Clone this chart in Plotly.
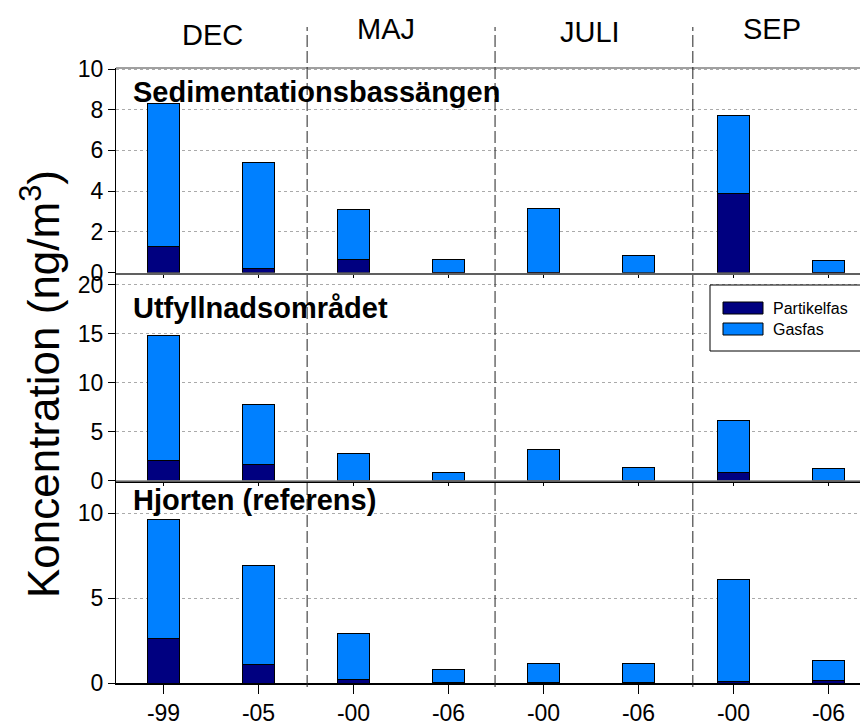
import plotly.graph_objects as go

# ---- data ----
categories = ["-99", "-05", "-00", "-06", "-00", "-06", "-00", "-06"]
months = ["DEC", "MAJ", "JULI", "SEP"]
panel_titles = ["Sedimentationsbassängen", "Utfyllnadsområdet", "Hjorten (referens)"]

sed_partikel = [1.26, 0.19, 0.62, 0.02, 0.02, 0.00, 3.87, 0.02]
sed_gas = [7.04, 5.24, 2.49, 0.64, 3.14, 0.83, 3.85, 0.58]

utf_partikel = [2.09, 1.68, 0.05, 0.02, 0.05, 0.02, 0.85, 0.02]
utf_gas = [12.69, 6.04, 2.76, 0.76, 3.07, 1.28, 5.33, 1.25]

hjo_partikel = [2.60, 1.08, 0.19, 0.03, 0.03, 0.03, 0.08, 0.13]
hjo_gas = [7.05, 5.84, 2.71, 0.79, 1.10, 1.12, 6.04, 1.18]

series_names = ["Partikelfas", "Gasfas"]

# ---- styling ----
C_PART = "#000080"
C_GAS = "#0080FF"
NARROW = "Liberation Sans Narrow, Arial Narrow, Liberation Sans, Arial, sans-serif"
REG = "Liberation Sans, Arial, sans-serif"

W, H = 868, 724
OFF = 8  # page body margin
ML, MR, MT, MB = 108, 0, 60, 49
PH = H - MT - MB
PW = W - ML - MR

def py(screen_y):
    return (H - MB - (screen_y - OFF)) / PH

def px(screen_x):
    return (screen_x - OFF - ML) / PW

xpos = list(range(len(categories)))
XR = [-0.5, 7.5]

fig = go.Figure()

panels = [
    (sed_partikel, sed_gas, "y", "x"),
    (utf_partikel, utf_gas, "y2", "x2"),
    (hjo_partikel, hjo_gas, "y3", "x3"),
]
for i, (part, gas, ya, xa) in enumerate(panels):
    for name, vals, col in [(series_names[0], part, C_PART), (series_names[1], gas, C_GAS)]:
        fig.add_trace(go.Bar(
            x=xpos, y=vals, name=name, width=0.345,
            marker=dict(color=col, line=dict(color="black", width=1)),
            xaxis=xa, yaxis=ya, showlegend=False,
        ))

domains = {
    "y": [py(272.5), 1.0],
    "y2": [py(480.5), py(274)],
    "y3": [0.0, py(481)],
}
ranges = {"y": [0, 10.05], "y2": [0, 21.1], "y3": [0, 11.9]}
dticks = {"y": 2, "y2": 5, "y3": 5}

yaxis_common = dict(
    showline=True, linecolor="black", linewidth=1,
    ticks="outside", ticklen=7, tickcolor="black",
    showgrid=True, gridcolor="#aaaaaa", griddash="dot", gridwidth=1,
    zeroline=False,
    tickfont=dict(family=NARROW, size=23, color="black"),
)
fig.update_layout(
    yaxis=dict(domain=domains["y"], range=ranges["y"], dtick=dticks["y"], **yaxis_common),
    yaxis2=dict(domain=domains["y2"], range=ranges["y2"], dtick=dticks["y2"], **yaxis_common),
    yaxis3=dict(domain=domains["y3"], range=ranges["y3"], dtick=dticks["y3"], **yaxis_common),
)

xaxis_common = dict(
    range=XR, domain=[0, 1], showline=True, linecolor="black", linewidth=1.5,
    ticks="outside", tickcolor="black", showgrid=False, zeroline=False,
    tickvals=xpos,
)
fig.update_layout(
    xaxis=dict(anchor="y", matches="x3", showticklabels=False, ticklen=4, **xaxis_common),
    xaxis2=dict(anchor="y2", matches="x3", showticklabels=False, ticklen=4, **xaxis_common),
    xaxis3=dict(anchor="y3", ticktext=categories, ticklen=9,
                tickfont=dict(family=NARROW, size=23, color="black"), **xaxis_common),
)

# top borders (gray)
for top in [1.0, py(274), py(481)]:
    fig.add_shape(type="line", xref="paper", yref="paper", x0=0, x1=1, y0=top, y1=top,
                  line=dict(color="#808080", width=1.5))

# dashed month separators
for xs in [1.512, 3.49, 5.572]:
    fig.add_shape(type="line", xref="x3", yref="paper", x0=xs, x1=xs,
                  y0=py(687), y1=py(27),
                  line=dict(color="#222222", width=1, dash="12px,4px"))

# month labels
for m, xm, ym in zip(months, [0.52, 2.34, 4.489, 6.405], [35, 29, 32, 29]):
    fig.add_annotation(x=xm, xref="x3", y=py(ym), yref="paper", text=m, showarrow=False,
                       font=dict(family=REG, size=29, color="black"), yanchor="middle")

# panel titles
for t, yp in zip(panel_titles, [92, 308, 500]):
    fig.add_annotation(x=px(131), xref="paper", y=py(yp), yref="paper",
                       text="<b>%s</b>" % t, showarrow=False, xanchor="left", yanchor="middle",
                       font=dict(family=NARROW, size=29, color="black"))

# y axis title
fig.add_annotation(x=px(40), xref="paper", y=py(384), yref="paper",
                   text="Koncentration (ng/m<sup>3</sup>)", textangle=-90, showarrow=False,
                   xanchor="center", yanchor="middle",
                   font=dict(family=REG, size=44, color="black"))

# legend (drawn in the middle panel)
fig.add_shape(type="rect", xref="paper", yref="paper", x0=px(710), x1=px(880),
              y0=py(351), y1=py(285), line=dict(color="black", width=1), fillcolor="white")
for name, col, yc in [(series_names[0], C_PART, 308), (series_names[1], C_GAS, 329)]:
    fig.add_shape(type="rect", xref="paper", yref="paper", x0=px(723), x1=px(763),
                  y0=py(yc + 6), y1=py(yc - 6), line=dict(color="black", width=1), fillcolor=col)
    fig.add_annotation(x=px(771), xref="paper", y=py(yc), yref="paper", text=name,
                       showarrow=False, xanchor="left", yanchor="middle",
                       font=dict(family=NARROW, size=16, color="black"))

fig.update_layout(
    width=W, height=H, margin=dict(l=ML, r=MR, t=MT, b=MB),
    barmode="stack", plot_bgcolor="white", paper_bgcolor="white",
    showlegend=False,
)

fig.write_html("out.html")
